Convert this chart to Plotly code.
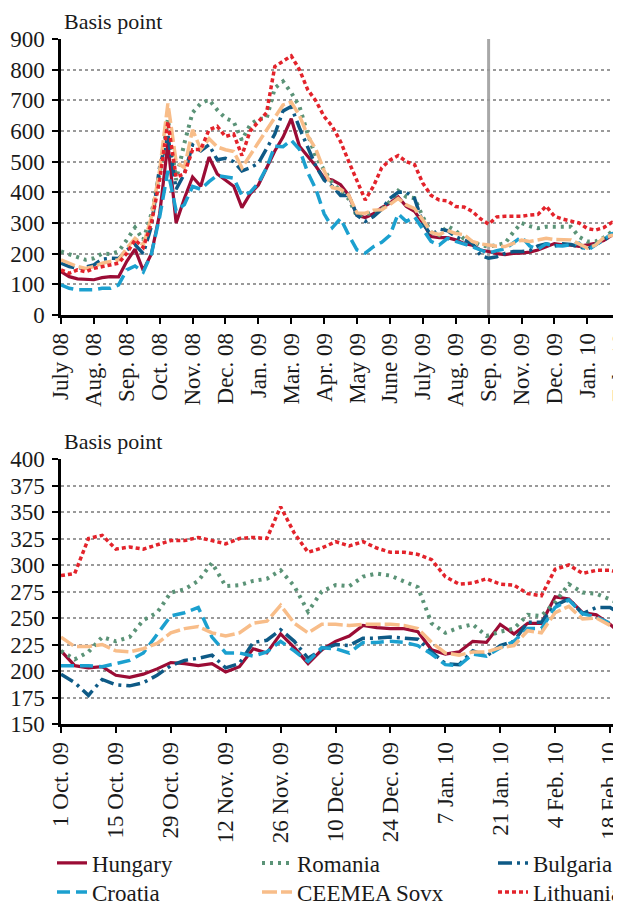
import plotly.graph_objects as go

# ---------------- data ----------------
top_tick_labels = ["July 08", "Aug. 08", "Sep. 08", "Oct. 08", "Nov. 08", "Dec. 08", "Jan. 09",
                   "Mar. 09", "Apr. 09", "May 09", "June 09", "July 09", "Aug. 09", "Sep. 09",
                   "Nov. 09", "Dec. 09", "Jan. 10", "Feb. 10"]
bottom_tick_labels = ["1 Oct. 09", "15 Oct. 09", "29 Oct. 09", "12 Nov. 09", "26 Nov. 09",
                      "10 Dec. 09", "24 Dec. 09", "7 Jan. 10", "21 Jan. 10", "4 Feb. 10", "18 Feb. 10"]
series_names = ["Hungary", "Romania", "Bulgaria", "Croatia", "CEEMEA Sovx", "Lithuania"]

# top panel: July 2008 - Feb 2010 (four readings per tick interval)
hungary_top = [141, 125, 118, 117, 115, 122, 125, 124, 175, 215, 145, 200, 330,
               560, 300, 380, 450, 420, 515, 460, 440, 420, 350, 395, 424,
               480, 535, 580, 640, 550, 517, 485, 446, 440, 425, 390, 325,
               318, 330, 350, 365, 385, 354, 338, 300, 256, 252, 252, 245,
               233, 228, 212, 207, 200, 197, 201, 202, 205, 212, 223, 233,
               229, 228, 224, 230, 234, 243, 260, 256]
romania_top = [207, 198, 190, 180, 185, 200, 199, 207, 245, 285, 245, 330, 462,
               640, 440, 560, 660, 690, 702, 669, 642, 630, 570, 620, 640,
               640, 740, 762, 725, 680, 590, 515, 473, 430, 405, 378, 321,
               330, 332, 345, 370, 405, 385, 381, 320, 270, 260, 290, 275,
               248, 240, 228, 223, 228, 234, 270, 300, 290, 283, 288, 288,
               290, 288, 255, 240, 240, 252, 272, 265]
bulgaria_top = [169, 158, 152, 156, 163, 182, 185, 184, 212, 230, 200, 290, 484,
                585, 410, 460, 555, 535, 555, 506, 511, 500, 470, 480, 495,
                540, 590, 665, 680, 610, 550, 485, 440, 420, 390, 390, 325,
                305, 321, 345, 380, 400, 400, 380, 300, 260, 280, 275, 255,
                245, 234, 195, 185, 190, 201, 207, 207, 210, 225, 232, 225,
                232, 230, 222, 215, 230, 243, 262, 265]
croatia_top = [98, 87, 82, 82, 82, 87, 87, 98, 147, 160, 140, 200, 321,
               470, 340, 360, 419, 410, 435, 455, 451, 446, 390, 400, 430,
               480, 550, 549, 570, 540, 465, 410, 330, 285, 315, 260, 212,
               202, 223, 237, 260, 330, 305, 320, 280, 240, 228, 250, 240,
               232, 223, 212, 202, 210, 215, 235, 255, 225, 214, 232, 226,
               225, 230, 234, 210, 228, 245, 265, 270]
ceemea_top = [180, 169, 158, 152, 158, 169, 174, 180, 218, 250, 228, 320, 473,
              690, 500, 480, 604, 540, 575, 548, 539, 533, 480, 520, 560,
              600, 640, 685, 694, 650, 585, 540, 470, 415, 410, 390, 333,
              332, 342, 343, 360, 380, 359, 347, 310, 270, 262, 275, 266,
              262, 240, 232, 228, 224, 223, 235, 244, 240, 245, 250, 246,
              245, 245, 232, 218, 228, 252, 260, 254]
lithuania_top = [147, 136, 147, 141, 152, 158, 163, 169, 201, 245, 220, 300, 441,
                 630, 450, 460, 539, 540, 604, 615, 582, 590, 520, 600, 630,
                 660, 810, 828, 845, 800, 735, 698, 647, 615, 565, 500, 440,
                 375, 420, 480, 505, 520, 500, 490, 430, 390, 375, 372, 354,
                 352, 338, 314, 296, 320, 322, 321, 322, 326, 328, 355, 322,
                 313, 306, 300, 282, 277, 285, 302, 292]

# bottom panel: 1 Oct 2009 - Feb 2010 (four readings per fortnight)
hungary_bot = [219, 205, 203, 204, 196, 194, 197, 202, 208, 207, 205, 207, 199, 204,
               221, 217, 235, 222, 207, 220, 228, 233, 243, 241, 240, 240, 237,
               220, 216, 218, 228, 227, 244, 235, 245, 245, 270, 268, 255, 253, 244, 233]
romania_bot = [219, 211, 218, 232, 228, 232, 248, 255, 274, 277, 285, 302, 280, 281,
               285, 287, 295, 280, 256, 275, 281, 280, 289, 292, 290, 284, 279,
               245, 236, 241, 244, 233, 237, 240, 253, 252, 265, 282, 274, 273, 268, 262]
bulgaria_bot = [197, 189, 177, 192, 187, 186, 189, 196, 205, 210, 212, 215, 203, 207,
                227, 229, 239, 228, 212, 220, 225, 224, 231, 231, 232, 231, 230,
                218, 207, 206, 219, 214, 224, 228, 246, 246, 262, 268, 254, 260, 260, 252]
croatia_bot = [205, 205, 205, 204, 207, 210, 217, 234, 252, 255, 260, 232, 217, 217,
               214, 218, 228, 219, 209, 222, 221, 217, 227, 227, 228, 227, 224,
               216, 206, 205, 216, 214, 222, 228, 240, 240, 260, 267, 254, 251, 245, 235]
ceemea_bot = [232, 223, 223, 225, 219, 218, 221, 226, 236, 240, 242, 236, 233, 236,
              245, 247, 262, 245, 236, 244, 244, 243, 244, 244, 244, 243, 240,
              227, 217, 215, 218, 218, 222, 224, 238, 236, 255, 261, 249, 250, 243, 238]
lithuania_bot = [290, 292, 325, 328, 315, 317, 315, 319, 323, 323, 326, 323, 320, 325,
                 326, 325, 355, 330, 312, 316, 322, 318, 322, 316, 312, 312, 310,
                 305, 289, 282, 283, 287, 282, 281, 273, 271, 296, 300, 292, 295, 295, 292]

readings_per_tick = 4

# ---------------- styles ----------------
colors = ["#9b0c35", "#5b9377", "#0e5a86", "#1ba0cf", "#f8bd89", "#e3232b"]
dashes = ["solid", "3px,5px", "14px,5px,3px,5px", "13px,6px", "15px,4px", "4px,3px"]
widths = [3.2, 4, 3.5, 3.5, 3.5, 3.5]

FONT = "Liberation Serif"
TXT = "#1a1a1a"
top_data = [hungary_top, romania_top, bulgaria_top, croatia_top, ceemea_top, lithuania_top]
bot_data = [hungary_bot, romania_bot, bulgaria_bot, croatia_bot, ceemea_bot, lithuania_bot]
legend_ids = ["legend", "legend2", "legend3", "legend4", "legend5", "legend6"]

fig = go.Figure()
for i, name in enumerate(series_names):
    ys = top_data[i]
    fig.add_trace(go.Scatter(x=list(range(len(ys))), y=ys, name=name, mode="lines",
                             line=dict(color=colors[i], width=widths[i], dash=dashes[i]),
                             xaxis="x", yaxis="y", showlegend=True, legend=legend_ids[i]))
for i, name in enumerate(series_names):
    ys = bot_data[i]
    fig.add_trace(go.Scatter(x=list(range(len(ys))), y=ys, name=name, mode="lines",
                             line=dict(color=colors[i], width=widths[i], dash=dashes[i]),
                             xaxis="x2", yaxis="y2", showlegend=False))

top_tickvals = [k * readings_per_tick for k in range(len(top_tick_labels))]
bot_tickvals = [k * readings_per_tick for k in range(len(bottom_tick_labels))]

# the page places the figure 8px in from the top-left corner
W, H = 621, 903
ml, mr, mt = 53, 8, 31
plot_bottom = 716           # bottom of lower panel, figure px
mb = H - plot_bottom
ph = H - mt - mb
pw = W - ml - mr
top_dom = [(plot_bottom - 307) / ph, 1.0]
bot_dom = [0.0, (plot_bottom - 451) / ph]

axis_common = dict(showline=True, linecolor="black", linewidth=2.5, ticks="outside",
                   ticklen=6, tickwidth=2, tickcolor="black", automargin=False,
                   tickfont=dict(family=FONT, size=23, color=TXT))
yaxis_common = dict(axis_common, showgrid=True, gridcolor="#9a9a9a", griddash="dot",
                    gridwidth=1.5, zeroline=False, ticklabelstandoff=3)
xaxis_common = dict(axis_common, showgrid=False, zeroline=False, tickangle=-90,
                    ticklabeloverflow="allow")

# legend grid: three columns, two rows (figure px of each legend's top-left)
col_left_px = [44, 249, 485]
row_top_px = [833.5, 862.5]
legends = {}
for i, lid in enumerate(legend_ids):
    c, r = i % 3, i // 3
    legends[lid] = dict(orientation="v", x=(col_left_px[c] - ml) / pw, xanchor="left",
                        y=-(row_top_px[r] - plot_bottom) / ph, yanchor="top",
                        font=dict(family=FONT, size=23, color=TXT),
                        bgcolor="rgba(0,0,0,0)", itemwidth=30)

fig.update_layout(
    width=W, height=H,
    margin=dict(l=ml, r=mr, t=mt, b=mb, autoexpand=False),
    paper_bgcolor="white", plot_bgcolor="white",
    font=dict(family=FONT, size=22, color=TXT),
    xaxis=dict(xaxis_common, domain=[0, 1], anchor="y", range=[0, 68.1],
               tickvals=top_tickvals, ticktext=top_tick_labels),
    yaxis=dict(yaxis_common, domain=top_dom, anchor="x", range=[0, 900], dtick=100),
    xaxis2=dict(xaxis_common, domain=[0, 1], anchor="y2", range=[0, 40.8],
                tickvals=bot_tickvals, ticktext=bottom_tick_labels),
    yaxis2=dict(yaxis_common, domain=bot_dom, anchor="x2", range=[150, 400], dtick=25),
    showlegend=True,
    annotations=[
        dict(text="Basis point", xref="paper", yref="paper", x=0.002, y=1.0, yshift=3,
             xanchor="left", yanchor="bottom", showarrow=False,
             font=dict(family=FONT, size=22, color=TXT)),
        dict(text="Basis point", xref="paper", yref="paper", x=0.002, y=bot_dom[1], yshift=3,
             xanchor="left", yanchor="bottom", showarrow=False,
             font=dict(family=FONT, size=22, color=TXT)),
    ],
    shapes=[dict(type="line", xref="x", yref="y", x0=top_tickvals[13], x1=top_tickvals[13],
                 y0=0, y1=900, line=dict(color="#a8a8a8", width=3), layer="below")],
    **legends,
)

fig.write_html("out.html")
